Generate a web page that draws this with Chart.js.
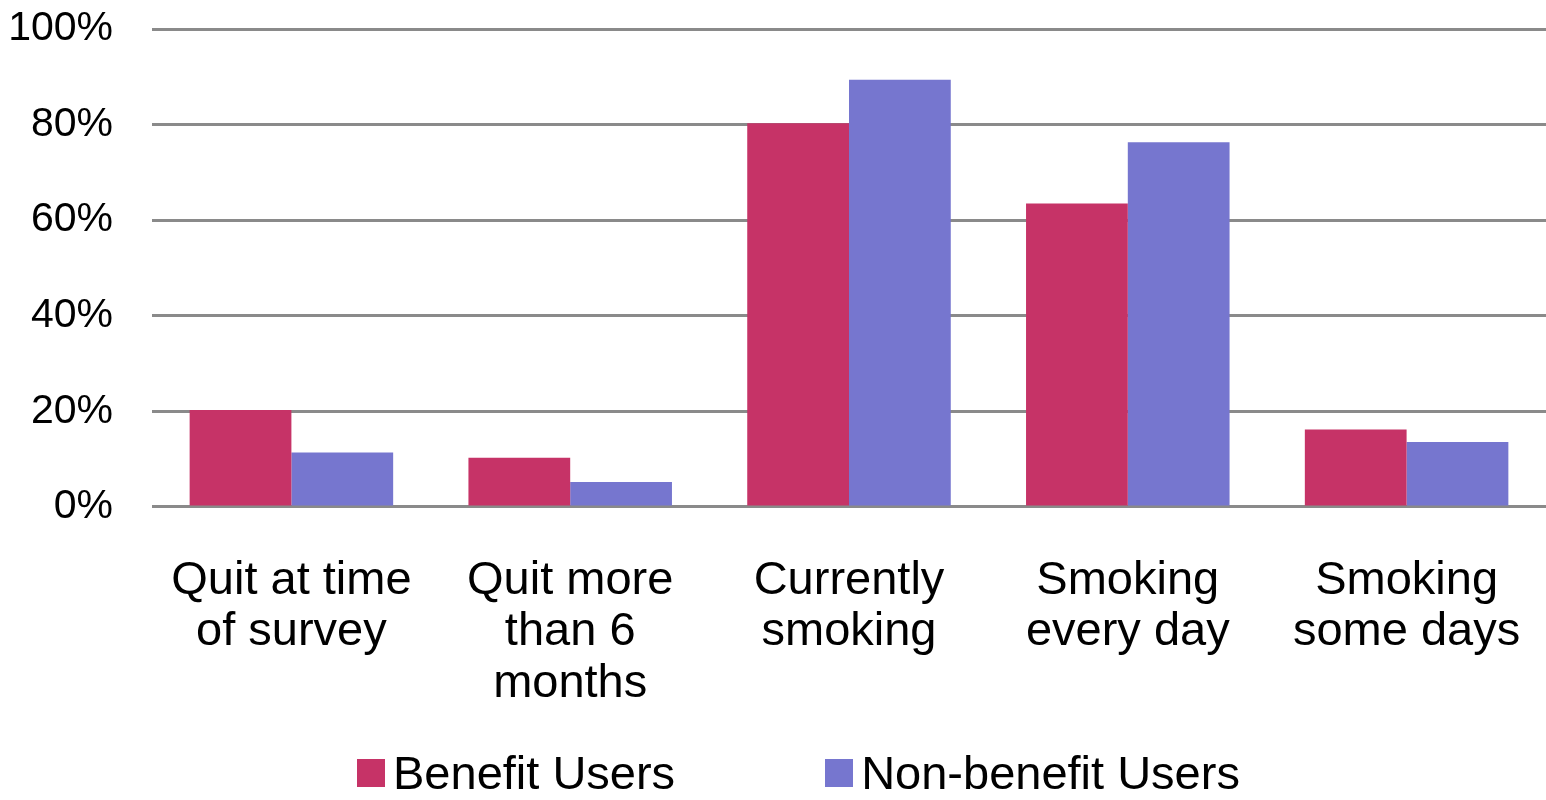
<!DOCTYPE html>
<html>
<head>
<meta charset="utf-8">
<script src="https://cdn.jsdelivr.net/npm/chart.js@4.4.0/dist/chart.umd.min.js"></script>
<style>
  html, body { margin: 0; padding: 0; background: #fff; }
  #wrap { position: relative; width: 1546px; height: 800px; }
  /* leyenda en html, asi se puede poner igual que la imagen */
  #leyenda {
    position: absolute; left: 357px; top: 743px;
    display: flex; align-items: center; margin: 0; padding: 0; list-style: none;
    font-family: "Liberation Sans", Arial, sans-serif; font-size: 47px; line-height: 60px; color: #000;
  }
  #leyenda li { display: flex; align-items: center; margin-right: 150px; white-space: nowrap; }
  #leyenda li span.caja { display: inline-block; width: 28px; height: 28px; margin-right: 8px; }
</style>
</head>
<body>
<div id="wrap">
  <canvas id="grafica"></canvas>
  <ul id="leyenda"></ul>
</div>
<script>
// categorias del eje x (cada una partida en lineas como en la imagen)
const categorias = [
  ['Quit at time', 'of survey'],
  ['Quit more', 'than 6', 'months'],
  ['Currently', 'smoking'],
  ['Smoking', 'every day'],
  ['Smoking', 'some days'],
];

// valores (%)
const benefitUsers    = [20.3, 10.3, 80.3, 63.5, 16.2];
const nonBenefitUsers = [11.4, 5.2, 89.4, 76.3, 13.6];

// ticks del eje y
const ticksY = [0, 20, 40, 60, 80, 100];

const FUENTE = '"Liberation Sans", Arial, sans-serif';

// plugin de leyenda html (mismo patron que el ejemplo de la documentacion)
const leyendaHtml = {
  id: 'leyendaHtml',
  afterUpdate(chart) {
    const ul = document.getElementById('leyenda');
    ul.innerHTML = '';
    const items = chart.options.plugins.legend.labels.generateLabels(chart);
    for (const it of items) {
      const li = document.createElement('li');
      const caja = document.createElement('span');
      caja.className = 'caja';
      caja.style.background = it.fillStyle;
      const txt = document.createElement('span');
      txt.textContent = it.text;
      li.appendChild(caja);
      li.appendChild(txt);
      ul.appendChild(li);
    }
  }
};

new Chart(document.getElementById('grafica'), {
  type: 'bar',
  data: {
    labels: categorias,
    datasets: [
      { label: 'Benefit Users', data: benefitUsers, backgroundColor: '#C63367' },
      { label: 'Non-benefit Users', data: nonBenefitUsers, backgroundColor: '#7676CF' },
    ]
  },
  options: {
    responsive: true,
    maintainAspectRatio: false,
    animation: false,
    layout: { padding: { top: 29, right: 0, bottom: 42, left: 0 } },
    datasets: { bar: { categoryPercentage: 0.73, barPercentage: 1.0 } },
    scales: {
      x: {
        grid: { display: false, drawTicks: false },
        border: { display: false },
        ticks: {
          color: '#000',
          font: { family: FUENTE, size: 47, lineHeight: 1.1 },
          padding: 48,
          maxRotation: 0,
          autoSkip: false,
        },
        afterFit: (s) => { s.paddingLeft = 0; s.paddingRight = 0; }
      },
      y: {
        min: ticksY[0],
        max: ticksY[ticksY.length - 1],
        afterBuildTicks: (ax) => { ax.ticks = ticksY.map(v => ({ value: v })); },
        grid: { color: '#8a8a8a', lineWidth: 3, drawTicks: false },
        border: { display: false },
        ticks: {
          color: '#000',
          font: { family: FUENTE, size: 41 },
          padding: 39,
          callback: (v) => v + '%',
        },
        afterFit: (s) => { s.width = 152; s.paddingTop = 0; s.paddingBottom = 0; }
      }
    },
    plugins: {
      tooltip: { enabled: false },
      legend: { display: false }
    }
  },
  plugins: [leyendaHtml]
});
</script>
</body>
</html>
